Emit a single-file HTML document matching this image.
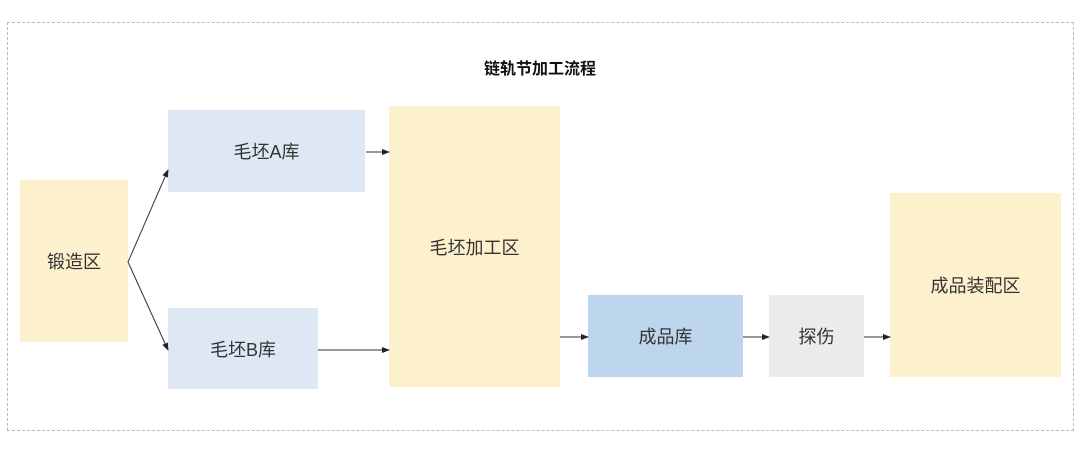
<!DOCTYPE html>
<html><head><meta charset="utf-8"><style>
body{margin:0;width:1080px;height:453px;background:#fff;position:relative;overflow:hidden;font-family:"Liberation Sans","Noto Sans CJK SC",sans-serif;}
.b{position:absolute;display:flex;align-items:center;justify-content:center;font-size:18px;color:#333;}
.y{background:#fdf0cc}.l{background:#dee8f4}.d{background:#bdd6ee}.g{background:#ebebeb}
</style></head><body>
<div style="position:absolute;left:7px;top:22px;width:1065px;height:407px;border:1px dashed #bbb;"></div>
<div style="position:absolute;left:0;width:1080px;top:55px;text-align:center;font-size:16px;font-weight:bold;color:#111;">链轨节加工流程</div>
<div class="b y" style="left:20px;top:180px;width:108px;height:162px">锻造区</div>
<div class="b l" style="left:168px;top:110px;width:197px;height:82px">毛坯A库</div>
<div class="b l" style="left:168px;top:308px;width:150px;height:81px">毛坯B库</div>
<div class="b y" style="left:389px;top:106px;width:171px;height:281px">毛坯加工区</div>
<div class="b d" style="left:588px;top:295px;width:155px;height:82px">成品库</div>
<div class="b g" style="left:769px;top:295px;width:95px;height:82px">探伤</div>
<div class="b y" style="left:890px;top:193px;width:171px;height:184px">成品装配区</div>
<svg width="1080" height="453" style="position:absolute;left:0;top:0">
<defs><marker id="a" markerWidth="8" markerHeight="6" refX="7" refY="3" orient="auto" markerUnits="userSpaceOnUse"><path d="M0,0L8,3L0,6z" fill="#222"/></marker></defs>
<g stroke="#333" stroke-width="1" fill="none" marker-end="url(#a)">
<line x1="128" y1="262" x2="168" y2="170"/>
<line x1="128" y1="262" x2="168" y2="350"/>
<line x1="366" y1="152" x2="389" y2="152"/>
<line x1="318" y1="350" x2="389" y2="350"/>
<line x1="560" y1="337" x2="588" y2="337"/>
<line x1="743" y1="337" x2="769" y2="337"/>
<line x1="864" y1="337" x2="890" y2="337"/>
</g></svg>
</body></html>
